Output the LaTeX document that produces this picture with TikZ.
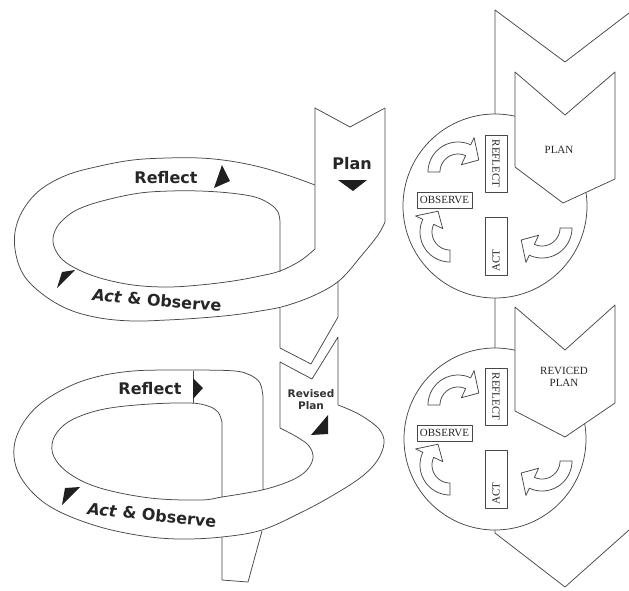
\documentclass[tikz,border=0pt]{standalone}
\usepackage{fontspec}
\setmainfont{Liberation Serif}
\newfontfamily\lblfont{DejaVu Sans}
\newcommand\cyclearrow[3]{%
 \begin{scope}[shift={(#1,#2)}, rotate=#3]
 \draw[ln, fill=white] plot[domain=180:295, samples=25] (\x:30) -- (295:38) -- (330:24) -- (295:8) -- plot[domain=295:180, samples=25] (\x:18) -- cycle;
 \end{scope}}
\begin{document}
\begin{tikzpicture}[x=1pt,y=-1pt,
  ln/.style={draw=black!72, line width=0.75pt, line join=round},
  tri/.style={fill=black!88, draw=none},
  lbl/.style={font=\lblfont\bfseries\fontsize{16}{18}\selectfont, inner sep=0pt, text=black!85},
  small/.style={font=\lblfont\bfseries\fontsize{10.5}{12}\selectfont, inner sep=0pt, text=black!80, align=center},
  rt/.style={font=\fontsize{11}{12}\selectfont, inner sep=0pt, text=black!85, align=center},
  bx/.style={ln, fill=white}]
\useasboundingbox (0,0) rectangle (629,590);

% ---------------- upper spiral ----------------
% plan band + inner edge of upper ring
\draw[ln] (385,108) -- (350,127) -- (315,108) -- (315,249)
  plot[smooth, tension=.6] coordinates {(315,249) (300,261) (280,271) (260,276) (233,281) (200,285) (167,287) (133,285) (100,278) (75,268) (60,257) (53,242) (57,227) (70,214) (86,206) (110,199) (140,193) (170,191) (200,191) (230,193) (255,197) (270,204) (278,212) (280,222)} -- (280,272);
% outer edge of upper ring
\draw[ln] plot[smooth, tension=.6] coordinates {(315,185) (290,176) (260,167) (230,161) (200,158) (167,158) (133,160) (100,166) (67,175) (40,190) (23,210) (15,232) (16,255) (25,277) (45,296) (70,310) (100,318) (133,321) (167,320) (200,318) (233,315) (260,311) (285,306) (315,295) (340,280) (362,255) (378,235) (385,222)} -- (385,108);
% descending band
\draw[ln] (280,308) -- (280,348) -- (311,364) -- (338,317) -- (338,281);

% ---------------- lower spiral ----------------
\draw[ln] (263,490) -- (263,397)
  plot[smooth, tension=.6] coordinates {(263,397) (260,383) (250,375) (235,371) (200,370) (167,370) (133,371) (100,376) (70,386) (40,404) (22,425) (14,448) (18,472) (35,495) (60,512) (100,527) (143,536) (180,539) (222,537) (262,530) (300,513) (330,497) (360,478) (377,461) (384,443) (379,429) (362,416) (348,409) (338,405)}
  -- (338,337) -- (312,379) -- (280,362) -- (280,428)
  plot[smooth, tension=.6] coordinates {(280,428) (297,437) (309,446) (313,458) (306,471) (290,481) (262,490) (222,497) (200,500) (150,498) (100,488) (70,474) (54,457) (53,440) (64,425) (83,415) (110,408) (150,404) (190,403) (208,406) (218,412) (222,422)} -- (222,497);
% tail
\draw[ln] (222,537) -- (222,580) -- (248,582) -- (262,531);
\draw[ln] (193,371) -- (193,403);

% direction markers
\fill[tri] (338,180) -- (367,180) -- (353,191) -- cycle;
\fill[tri] (222,165) -- (230,181) -- (214,188) -- cycle;
\fill[tri] (62,272) -- (75,270) -- (57,288) -- cycle;
\fill[tri] (193,378) -- (203,388) -- (193,399) -- cycle;
\fill[tri] (65,488) -- (80,487) -- (62,505) -- cycle;
\fill[tri] (328,415) -- (328,434) -- (311,435) -- cycle;

% labels
\node[lbl] (plan) at (352,164) {Plan};
\node[lbl] (refl1) at (166,178) {Reflect};
\node[lbl, rotate=-5] (act1) at (157,300) {\textit{Act} \& Observe};
\node[lbl] (refl2) at (150,389) {Reflect};
\node[lbl, rotate=-6] (act2) at (152,515) {\textit{Act} \& Observe};
\node[small] (rplan) at (311,400) {Revised\\Plan};

% ---------------- right column ----------------
\draw[ln] (629,13) -- (565,62) -- (495,10) -- (495,533) -- (565,587) -- (629,530);
\draw[bx] (495,206) circle (92);
\draw[bx] (495,439) circle (91);

\foreach \dy in {0,233} {
  \cyclearrow{458}{172+\dy}{0}
  \cyclearrow{450}{232+\dy}{90}
  \cyclearrow{542}{228+\dy}{180}
  \draw[bx] (485,135+\dy) rectangle (507,192+\dy);
  \node[rt, rotate=-90] at (496,163.5+\dy) {REFLECT};
  \draw[bx] (485,217+\dy) rectangle (507,275+\dy);
  \node[rt, rotate=90, anchor=west] at (496,272+\dy) {ACT};
  \draw[bx] (417,192+\dy) rectangle (472,208+\dy);
  \node[rt] at (444.5,200+\dy) {OBSERVE};
}

\draw[bx] (515,72) -- (565,115) -- (615,72) -- (615,179) -- (563,203) -- (515,167) -- cycle;
\node[rt] (planR) at (559,150) {PLAN};
\draw[bx] (515,307) -- (565,350) -- (615,305) -- (615,403) -- (565,437) -- (515,411) -- cycle;
\node[rt] (rplanR) at (564,377) {REVICED\\PLAN};
\end{tikzpicture}
\end{document}
